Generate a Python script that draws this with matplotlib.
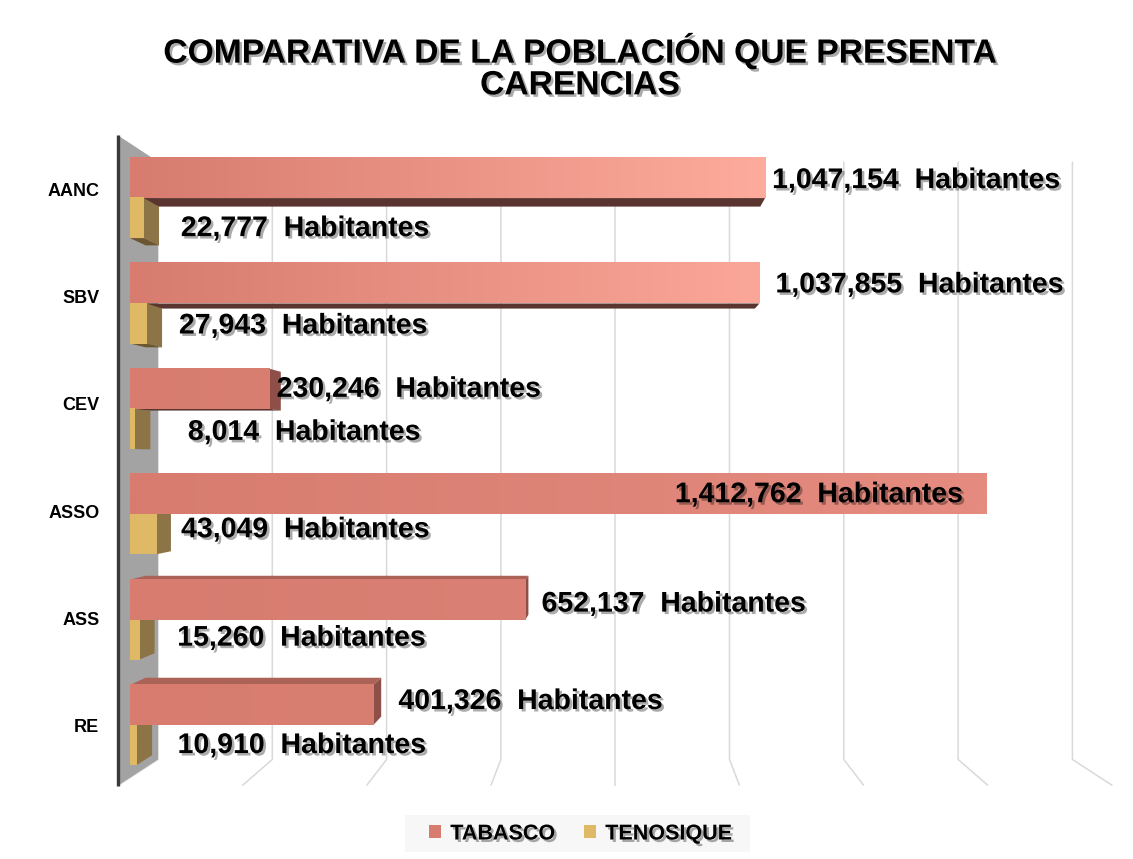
import matplotlib
matplotlib.use('Agg')
import matplotlib.pyplot as plt
import numpy as np
from matplotlib.patches import Polygon, Patch, Rectangle
import matplotlib.patheffects as pe
from matplotlib.colors import to_rgb

# ---------------- data ----------------
categories = ['AANC', 'SBV', 'CEV', 'ASSO', 'ASS', 'RE']
tabasco = [1047154, 1037855, 230246, 1412762, 652137, 401326]
tenosique = [22777, 27943, 8014, 43049, 15260, 10910]
series_names = ['TABASCO', 'TENOSIQUE']
unit_label = 'Habitantes'
grid_step = 200000
x_max = 1600000
title = 'COMPARATIVA DE LA POBLACIÓN QUE PRESENTA\nCARENCIAS'

# ---------------- style / layout ----------------
plt.rcParams['font.family'] = ['Liberation Sans', 'DejaVu Sans']
W, H = 1133, 859
fig = plt.figure(figsize=(W / 100, H / 100), dpi=100)
fig.patch.set_facecolor('white')
ax = fig.add_axes([0, 0, 1, 1])
ax.axis('off')

n = len(categories)
PX_PER_UNIT = 114.3 / 200000      # back wall scale
X0_PX = 158                         # pixel of value 0 on back wall
CAT_PX = 99.3                       # category spacing on back wall
TOP_CAT_PX = 213.3                  # pixel (from top) of first category on back wall
bottom_cat_px = TOP_CAT_PX + (n - 1) * CAT_PX
XLIM = (-X0_PX / PX_PER_UNIT, (W - X0_PX) / PX_PER_UNIT)
YLIM = (-(H - bottom_cat_px) / CAT_PX, (n - 1) + TOP_CAT_PX / CAT_PX)

VX, VY = x_max / 2, (n - 1) / 2     # vanishing point
S_WALL, S_BACK, S_FRONT, S_FLOOR = 1.0, 1.027, 1.0613, 1.0875
WALL_BOTTOM, WALL_TOP = -0.5, (n - 1) + 0.52
BAR_H = 0.38


def P(x, y, s):
    return (VX + s * (x - VX), VY + s * (y - VY))


zc = [1]


def nz():
    zc[0] += 1
    return zc[0]


# gridlines on back wall and floor
grid_c = '#d9d9d9'
for k in range(0, int(x_max / grid_step) + 1):
    gx = k * grid_step
    a = P(gx, WALL_TOP, S_WALL)
    b = P(gx, WALL_BOTTOM, S_WALL)
    c = P(gx, WALL_BOTTOM, S_FLOOR)
    ax.plot([a[0], b[0], c[0]], [a[1], b[1], c[1]], color=grid_c, lw=1.1,
            zorder=nz(), solid_capstyle='butt')

# left side wall
wall = [P(0, WALL_BOTTOM, S_WALL), P(0, WALL_TOP, S_WALL),
        P(0, WALL_TOP, S_FLOOR), P(0, WALL_BOTTOM, S_FLOOR)]
ax.add_patch(Polygon(wall, closed=True, facecolor='#a3a3a3', edgecolor='none', zorder=nz()))
e1, e2 = P(0, WALL_TOP, S_FLOOR), P(0, WALL_BOTTOM, S_FLOOR)
ax.plot([e1[0], e2[0]], [e1[1], e2[1]], color='#3a3a3a', lw=2.4, zorder=nz(),
        solid_capstyle='butt')

# bars
tab_front = '#d77c6f'
tab_end = ['#fdab9c', '#faa698', '#d97f72', '#e58b7f', '#da8074', '#d97f72']
tab_side, tab_top, tab_bottom = '#8e4f48', '#ab6257', '#5a3530'
ten_front = '#dfb966'
ten_side, ten_top, ten_bottom = '#8c7446', '#b3944f', '#6b5631'

boxes = []
for i in range(n):
    cy = (n - 1) - i
    boxes.append((tabasco[i], cy, cy + BAR_H, tab_front, tab_end[i], tab_side, tab_top, tab_bottom))
    boxes.append((tenosique[i], cy - BAR_H, cy, ten_front, ten_front, ten_side, ten_top, ten_bottom))
boxes.sort(key=lambda b: -abs((b[1] + b[2]) / 2 - VY))

for v, y0, y1, fc, fend, sc, tc, bc in boxes:
    fx0, fy0 = P(0, y0, S_FRONT)
    fx1, fy1 = P(v, y1, S_FRONT)
    bx0, by0 = P(0, y0, S_BACK)
    bx1, by1 = P(v, y1, S_BACK)
    if v < VX:
        ax.add_patch(Polygon([(fx1, fy0), (fx1, fy1), (bx1, by1), (bx1, by0)],
                             facecolor=sc, edgecolor='none', zorder=nz()))
    if y1 < VY:
        ax.add_patch(Polygon([(fx0, fy1), (fx1, fy1), (bx1, by1), (bx0, by1)],
                             facecolor=tc, edgecolor='none', zorder=nz()))
    if y0 > VY:
        ax.add_patch(Polygon([(fx0, fy0), (fx1, fy0), (bx1, by0), (bx0, by0)],
                             facecolor=bc, edgecolor='none', zorder=nz()))
    c0, c1 = np.array(to_rgb(fc)), np.array(to_rgb(fend))
    t = np.linspace(0, 1, 64)[:, None]
    grad = (c0 + (c1 - c0) * t)[None, :, :]
    ax.imshow(grad, extent=[fx0, fx1, fy0, fy1], aspect='auto',
              interpolation='bilinear', zorder=nz())

ax.set_xlim(*XLIM)
ax.set_ylim(*YLIM)

# text effects
shadow = [pe.withSimplePatchShadow(offset=(1.8, -1.8), shadow_rgbFace='black', alpha=0.33)]

# category labels
for i, cat in enumerate(categories):
    cy = (n - 1) - i
    lx, ly = P(0, cy + 0.02, 1.08)
    ax.annotate(cat, xy=(lx, ly), xytext=(-22, 0), textcoords='offset pixels',
                ha='right', va='center', fontsize=13, fontweight='bold', color='black',
                zorder=nz())

# value labels
tab_dx = [7, 16, 7, -24, 16, 25]
tab_dy = [-3, -2, -1, -1, -5, 3]
ten_dx = [37, 32, 53, 25, 38, 41]
ten_dy = [-11, -3, -4, 4, 1, -1]
for i in range(n):
    cy = (n - 1) - i
    ex, ey = P(tabasco[i], cy + BAR_H / 2, S_FRONT)
    ha = 'right' if tab_dx[i] < 0 else 'left'
    ax.annotate(f'{tabasco[i]:,}  {unit_label}', xy=(ex, ey), xytext=(tab_dx[i], tab_dy[i]),
                textcoords='offset pixels', ha=ha, va='center', fontsize=20.5,
                fontweight='bold', color='black', path_effects=shadow, zorder=nz())
    ex, ey = P(tenosique[i], cy - BAR_H / 2, S_FRONT)
    ax.annotate(f'{tenosique[i]:,}  {unit_label}', xy=(ex, ey), xytext=(ten_dx[i], ten_dy[i]),
                textcoords='offset pixels', ha='left', va='center', fontsize=20.5,
                fontweight='bold', color='black', path_effects=shadow, zorder=nz())

# title
fig.text(580 / W, 1 - 67 / H, title, ha='center', va='center', fontsize=24.2,
         fontweight='bold', linespacing=1.03, path_effects=shadow)

# legend
fig.add_artist(Rectangle((405 / W, 1 - 852 / H), 345 / W, 37 / H, transform=fig.transFigure,
                         facecolor='#f7f7f7', edgecolor='none', zorder=0))
handles = [Patch(facecolor=tab_front, edgecolor='none'), Patch(facecolor=ten_front, edgecolor='none')]
leg = fig.legend(handles, series_names, loc='center', bbox_to_anchor=(580 / W, 1 - 834 / H),
                 ncol=2, frameon=False, handlelength=0.55, handleheight=0.55,
                 handletextpad=0.45, columnspacing=1.35, borderpad=0.3,
                 prop={'weight': 'bold', 'size': 15.5})
for txt in leg.get_texts():
    txt.set_path_effects(shadow)

fig.savefig('out.png', dpi=100, facecolor='white')
